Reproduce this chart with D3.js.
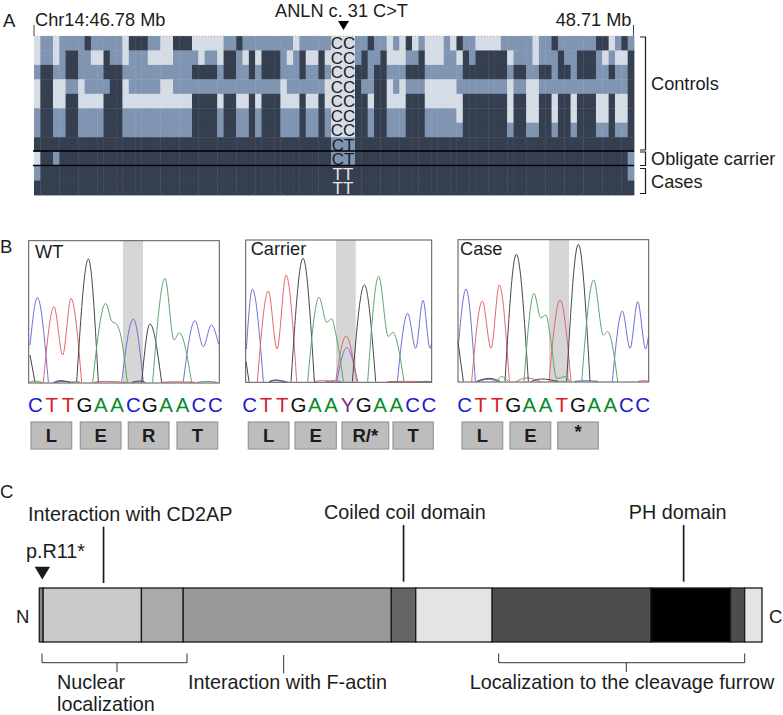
<!DOCTYPE html>
<html>
<head>
<meta charset="utf-8">
<script src="https://cdn.jsdelivr.net/npm/d3@7"></script>
<style>
  html, body { margin: 0; background: #fff; }
  svg { display: block; font-family: "Liberation Sans", Arial, sans-serif; }
</style>
</head>
<body>
<svg id="chart" width="783" height="715"></svg>
<script>
// Panel A: haplotype blocks, L = light, M = medium, D = dark
const hapLeft = [
  "L MM L MMMM D MMMMM L DDD MM LL DDD LLLLL MM D MMMMMMMM L MMMMM",
  "L MM L M DD MM LL D MM L MMM LLLL MMMM L MM L DD M L D L DDD M L M D LL D L",
  "M DD MM DD MMMM DDD MMMMMMMMMMM DDDD M DD MM D M DDD MMM D MM D M",
  "L DD LL MM L MMMM DD L MMMMM LL MMMMMMMMMMMMMMMMM L MMMMMM L",
  "L DD LL DD LLLL DDD LLLLLLLLLLL DDDD L DD LL D L DDD LLL D LL D L",
  "M DD MM DD MMMM DDD MMMMMMMMMMM DDDD M DD MM D M DDD MMM D MM D M",
  "M DD MM DD MMMM DDD MMMMMMMMMMM DDDD M DD MM D M DDD MMM D MM D M",
  "D".repeat(47),
  "L DD M " + "D".repeat(43),
  "M " + "D".repeat(46),
  "D".repeat(47)
];
const hapRight = [
  "MM D MM L M L D L M LLL M L D MM LLLL MMMMM L MM D MMMMMM DD L M D M",
  "M D MM D LLL MM D LLL MM L D M DDDDD L MMM L MMM D MM DDD M L M LL D",
  "DD M DD MMM DDD MMMMMM DDDDDDD M DD MM DD M DD M DDD MM D MM D",
  "D MM DD L M L MMM LLLLL MMMMMMMM L MM LL MMMMMMMMMMMMMM D",
  "DD L DD LLL DDD LLLLLL DDDDDDD L DD LL DD L DD L DDD LL D LL D",
  "DD M DD MMM DDD MMMMM L DDDDDDD L DD LL DD L DD L DDD LL D LL D",
  "DD M DD MMM DDD MMMMMM DDDDDDD M DD MM DD M DD M DDD MM D MM D",
  "D".repeat(44),
  "D".repeat(43) + " M",
  "D".repeat(43) + " M",
  "D".repeat(44)
];
const genotypes = ["CC","CC","CC","CC","CC","CC","CC","CT","CT","TT","TT"];
const hapMid = ["L","L","L","L","L","L","L","M","M","D","D"];
const hapColor = { L: "#d6dce6", M: "#8095b2", D: "#353f50" };

// Panel B: chromatogram traces as [position, signal]
const wtTraces = {
  blue: [[[4,114],[26,256],[59,2]], [[279,4],[314,192],[344,4]], [[464,4],[499,187],[524,109],[548,174],[570,116]], [[80,2],[100,5],[135,2]]],
  red: [[[44,2],[76,229],[102,84],[127,254],[159,2]], [[195,2],[230,5],[290,2]], [[400,2],[440,4],[500,2]]],
  black: [[[4,84],[19,2]], [[144,2],[179,372],[209,2]], [[339,2],[364,177],[399,2]], [[75,2],[95,7],[125,2]], [[310,2],[335,6],[350,2]]],
  green: [[[192,2],[231,239],[249,186],[264,176],[276,144],[296,2]], [[372,2],[409,314],[436,129],[452,151],[489,2]], [[2,2],[15,6],[40,2]], [[130,2],[145,5],[155,2]], [[505,2],[535,5],[565,2]]]
};
const carrierTraces = {
  blue: [[[2,100],[20,279],[53,2]], [[273,2],[303,104],[336,2]], [[455,2],[486,207],[510,102],[532,246],[553,102],[558,117]], [[70,2],[90,5],[125,2]], [[240,2],[270,5],[285,2]]],
  red: [[[35,2],[68,274],[94,100],[121,322],[153,2]], [[270,2],[301,139],[333,2]], [[205,2],[230,5],[265,2]], [[425,2],[480,3],[555,2]]],
  black: [[[1,62],[10,2]], [[136,2],[172,372],[206,2]], [[320,2],[356,292],[390,2]], [[70,2],[90,7],[115,2]]],
  green: [[[186,2],[220,255],[243,180],[258,190],[271,142],[293,2]], [[366,2],[399,318],[428,137],[441,150],[475,2]], [[520,2],[540,3],[557,2]]]
};
const caseTraces = {
  blue: [[[2,120],[24,279],[52,2]], [[463,2],[493,213],[516,101],[539,241],[563,99],[571,136]], [[60,2],[90,8],[120,2]], [[350,2],[380,4],[420,2]]],
  red: [[[41,2],[73,243],[99,101],[124,291],[154,2]], [[273,2],[306,246],[339,2]], [[175,2],[206,12],[246,2]], [[540,2],[560,4],[571,2]]],
  black: [[[0,121],[16,2]], [[141,2],[175,383],[211,2]], [[326,2],[361,413],[396,2]], [[56,2],[94,11],[126,2]], [[220,2],[250,9],[300,2]]],
  green: [[[198,2],[228,266],[248,193],[264,201],[276,141],[296,11],[321,16],[336,2]], [[371,2],[407,306],[436,141],[449,151],[479,2]], [[116,2],[131,16],[151,2]]]
};
const traceColor = { blue: "#6d70da", red: "#e4666c", black: "#444444", green: "#5ca56c" };

const seqWT = "CTTGAACGAACC".split("");
const seqCarrier = "CTTGAAYGAACC".split("");
const seqCase = "CTTGAATGAACC".split("");
const baseColor = { C: "#1a1acc", T: "#d81e1e", G: "#111", A: "#0a8a2a", Y: "#7a2a8a" };

const aminoWT = ["L","E","R","T"];
const aminoCarrier = ["L","E","R/*","T"];
const aminoCase = ["L","E","*"];

// Panel C: domain boundaries in residues
const domainStops = [0, 6, 159, 224, 548, 586, 705, 952, 1076, 1098, 1125];
const domainFills = ["#888888","#c9c9c9","#ababab","#989898","#666666","#e4e4e4","#4d4d4d","#000000","#4d4d4d","#e4e4e4"];

const svg = d3.select("#chart");

function label(txt, x, y, size, opts) {
  opts = opts || {};
  return svg.append("text").attr("x", x).attr("y", y)
    .attr("font-size", size)
    .attr("text-anchor", opts.anchor || "start")
    .attr("font-weight", opts.weight || "normal")
    .attr("fill", opts.fill || "#1c1c1c")
    .text(txt);
}
function rule(x1, y1, x2, y2, width, color) {
  return svg.append("line").attr("x1", x1).attr("y1", y1).attr("x2", x2).attr("y2", y2)
    .attr("stroke", color || "#1c1c1c").attr("stroke-width", width || 1);
}

/* ---------- Panel A ---------- */
label("A", 3, 27, 18.5);
label("B", 0, 253, 18.5);
label("C", 0, 498, 18.5);

const rowIdx = d3.range(11);
const yRow = d3.scaleBand().domain(rowIdx).range([36, 195]);
const xLeft = d3.scaleBand().domain(d3.range(47)).range([34, 331]);
const xRight = d3.scaleBand().domain(d3.range(44)).range([355, 634]);

function drawBlocks(rows, xScale) {
  rows.forEach(function(r, i) {
    const cells = r.replace(/ /g, "").split("");
    svg.append("g").selectAll("rect").data(cells).enter().append("rect")
      .attr("x", (d, j) => xScale(j))
      .attr("y", yRow(i))
      .attr("width", xScale.bandwidth() + 0.4)
      .attr("height", yRow.bandwidth() + 0.4)
      .attr("fill", d => hapColor[d]);
  });
}
drawBlocks(hapLeft, xLeft);
drawBlocks(hapRight, xRight);

svg.append("g").selectAll("rect").data(hapMid).enter().append("rect")
  .attr("x", 331).attr("y", (d, i) => yRow(i))
  .attr("width", 24).attr("height", yRow.bandwidth() + 0.4)
  .attr("fill", d => hapColor[d]);

rule(34, 36, 634, 36, 1, "#b5b5b5").attr("stroke-dasharray", "1 2");

svg.append("g").selectAll("text").data(genotypes).enter().append("text")
  .attr("x", 343).attr("y", (d, i) => yRow(i) + yRow.bandwidth() / 2 + 6.2)
  .attr("text-anchor", "middle").attr("font-size", 17)
  .attr("fill", d => d === "TT" ? "#e8e8e8" : "#1c1c1c")
  .text(d => d);

rule(33, 151, 634, 151, 1.5, "#000");
rule(33, 165.5, 634, 165.5, 1.5, "#000");

label("Chr14:46.78 Mb", 35, 26, 18.2);
label("48.71 Mb", 631.5, 26, 18.2, { anchor: "end" });
label("ANLN c. 31 C>T", 341.5, 16.5, 18.2, { anchor: "middle" });
svg.append("path").attr("d", "M338,21L349,21L343.5,30Z").attr("fill", "#000");
rule(34, 25, 34, 36, 1, "#444");
rule(633.5, 25, 633.5, 36, 1, "#444");

function bracketRight(y1, y2) {
  svg.append("path")
    .attr("d", `M640,${y1}H645.5V${y2}H640`)
    .attr("fill", "none").attr("stroke", "#1c1c1c").attr("stroke-width", 1.2);
}
bracketRight(37, 150);
bracketRight(152, 165.5);
bracketRight(168.5, 193.5);
label("Controls", 651, 90, 18.2);
label("Obligate carrier", 651, 165, 18.2);
label("Cases", 651, 188, 18.2);

/* ---------- Panel B ---------- */
function drawTrace(cfg) {
  const x = d3.scaleLinear().domain([0, cfg.span]).range([cfg.left, cfg.right]);
  const y = d3.scaleLinear().domain([0, 427]).range([cfg.bottom, cfg.top]);

  svg.append("rect").attr("x", x(cfg.band[0])).attr("y", cfg.top)
    .attr("width", x(cfg.band[1]) - x(cfg.band[0]))
    .attr("height", cfg.bottom - cfg.top).attr("fill", "#d6d6d6");

  const line = d3.line().x(d => x(d[0])).y(d => y(d[1])).curve(d3.curveMonotoneX);
  Object.keys(cfg.traces).forEach(function(color) {
    svg.append("g").selectAll("path").data(cfg.traces[color]).enter().append("path")
      .attr("d", line).attr("fill", "none")
      .attr("stroke", traceColor[color]).attr("stroke-width", 1);
  });

  svg.append("rect").attr("x", cfg.left).attr("y", cfg.top)
    .attr("width", cfg.right - cfg.left).attr("height", cfg.bottom - cfg.top)
    .attr("fill", "none").attr("stroke", "#555").attr("stroke-width", 1);

  label(cfg.name, cfg.nameX, cfg.nameY, 18.2);

  const xSeq = d3.scalePoint().domain(d3.range(12)).range(cfg.seqRange);
  svg.append("g").selectAll("text").data(cfg.seq).enter().append("text")
    .attr("x", (d, i) => xSeq(i)).attr("y", 412)
    .attr("text-anchor", "middle").attr("font-size", 20.5)
    .attr("fill", d => baseColor[d]).text(d => d);

  cfg.amino.forEach(function(a, i) {
    const b = cfg.boxes[i];
    svg.append("rect").attr("x", b[0]).attr("y", 422)
      .attr("width", b[1] - b[0]).attr("height", 27)
      .attr("fill", "#bdbdbd").attr("stroke", "#979797").attr("stroke-width", 1.2);
    label(a, (b[0] + b[1]) / 2, a === "*" ? 438 : 442, 18.5, { anchor: "middle", weight: "bold" });
  });
}
drawTrace({ name: "WT", nameX: 35, nameY: 258, left: 28.7, right: 219.3, top: 240.7, bottom: 383,
  span: 572, band: [283, 343], traces: wtTraces, seq: seqWT, seqRange: [35.3, 215.3], amino: aminoWT,
  boxes: [[31,71.7],[80.3,121],[128.3,169],[177,217.7]] });
drawTrace({ name: "Carrier", nameX: 250.7, nameY: 255, left: 245.7, right: 431.7, top: 240, bottom: 382.3,
  span: 558, band: [271, 330], traces: carrierTraces, seq: seqCarrier, seqRange: [249.7, 429], amino: aminoCarrier,
  boxes: [[248.3,289],[295,336.3],[342,388.7],[393,433.3]] });
drawTrace({ name: "Case", nameX: 460, nameY: 255, left: 458, right: 648.7, top: 239.7, bottom: 382,
  span: 572, band: [273, 333], traces: caseTraces, seq: seqCase, seqRange: [464.7, 642.7], amino: aminoCase,
  boxes: [[462,502.7],[510,550.7],[557.7,598.3]] });

/* ---------- Panel C ---------- */
const xProt = d3.scaleLinear().domain([0, 1125]).range([39.3, 762]);
svg.append("g").selectAll("rect").data(domainFills).enter().append("rect")
  .attr("x", (d, i) => xProt(domainStops[i]))
  .attr("y", 588)
  .attr("width", (d, i) => xProt(domainStops[i + 1]) - xProt(domainStops[i]))
  .attr("height", 54)
  .attr("fill", d => d)
  .attr("stroke", "#1a1a1a").attr("stroke-width", 1.3);

label("N", 16, 623, 18.5);
label("C", 769, 623, 18.5);
label("Interaction with CD2AP", 28, 520.5, 19.8);
label("Coiled coil domain", 324, 519, 19.8);
label("PH domain", 628.7, 519, 19.8);
label("p.R11*", 26, 558, 19.8);
svg.append("path").attr("d", "M34.7,566.7L50,566.7L42.3,579.5Z").attr("fill", "#1a1a1a");

rule(xProt(100), 526.7, xProt(100), 583, 1.7);
rule(xProt(567), 525, xProt(567), 581.7, 1.7);
rule(xProt(1003), 525, xProt(1003), 581.7, 1.7);

function bracketBelow(x1, x2, tick) {
  svg.append("path")
    .attr("d", `M${x1},653.5V662.7H${x2}V653.5M${tick},662.7V672`)
    .attr("fill", "none").attr("stroke", "#333").attr("stroke-width", 1);
}
bracketBelow(42, 187, 117);
bracketBelow(498.7, 744.7, 626.3);
rule(283.7, 655, 283.7, 673.3, 1, "#333");

label("Nuclear", 57, 689, 19.8);
label("localization", 57, 711, 19.8);
label("Interaction with F-actin", 188, 689, 19.8);
label("Localization to the cleavage furrow", 469.7, 689, 19.8);
</script>
</body>
</html>
